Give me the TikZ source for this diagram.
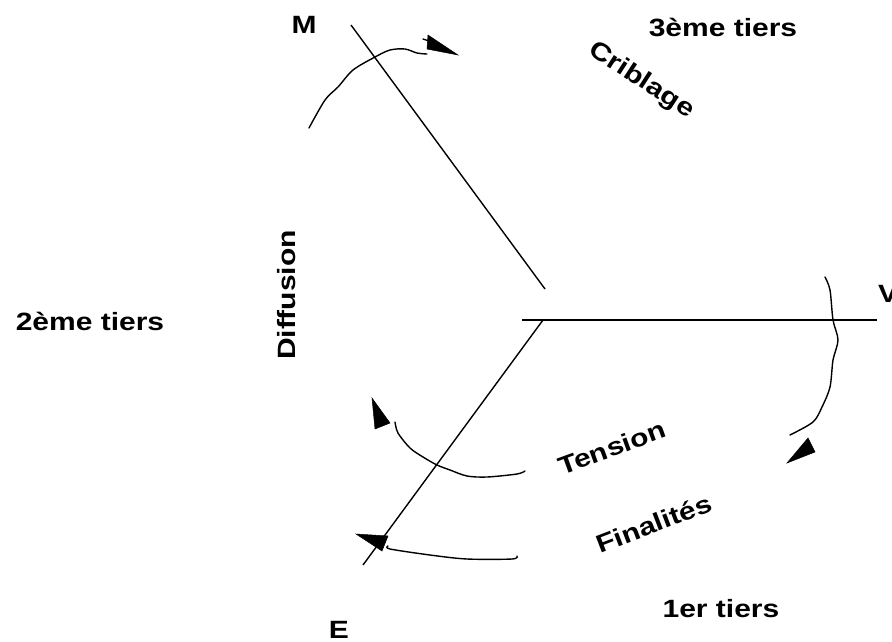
\documentclass[tikz,border=0pt]{standalone}
\usepackage{fontspec}
\newfontfamily\lab{Liberation Sans}[FakeStretch=1.2]
\begin{document}
\begin{tikzpicture}[x=1pt,y=-1pt,
  axis/.style={line width=1.4pt},
  wave/.style={line width=1.4pt, line join=round, line cap=round},
  head/.style={fill=black, draw=black, line width=0.5pt, line join=miter},
  lbl/.style={font=\lab\bfseries\fontsize{25}{30}\selectfont, inner sep=0pt, anchor=base}]
\useasboundingbox (0,0) rectangle (892,641);
% axes
\coordinate (mTop) at (351,25);
\coordinate (mEnd) at (545,289);
\coordinate (cen) at (522,320);
\coordinate (vEnd) at (877,320);
\coordinate (eTop) at (543,320);
\coordinate (eEnd) at (363,565);
\draw[axis] (mTop) -- (mEnd);
\draw[axis] (cen) -- (vEnd);
\draw[axis] (eTop) -- (eEnd);
% top arc (M)
\draw[wave] plot[smooth, tension=0.5] coordinates {(309,128) (325,100) (338,87) (353,70) (375,57) (390,50) (405,49) (417,53) (427,54)};
\draw[wave] (423,39) -- (429,41);
\fill[head] (428,35) -- (458,55) -- (427,49) -- cycle;
% right arc (V)
\draw[wave] plot[smooth, tension=0.5] coordinates {(825,277) (830,290) (833,320) (838,340) (833,360) (830,387) (822,407) (813,422) (790,435)};
\fill[head] (808,438) -- (815,452) -- (787,463) -- cycle;
% tension arc
\draw[wave] plot[smooth, tension=0.5] coordinates {(395,422) (398,433) (410,448) (423,457) (437,465) (450,470) (467,476) (487,477) (517,474) (525,471)};
\fill[head] (372,398) -- (390,423) -- (375,429) -- cycle;
% finalites arc
\draw[wave] plot[smooth, tension=0.5] coordinates {(388,546) (390,549) (430,555) (467,559) (512,559) (517,556)};
\fill[head] (356,534) -- (388,536) -- (382,551) -- cycle;
% labels
\node[lbl] (M) at (304,33) {M};
\node[lbl] (t3) at (723,36) {3ème tiers};
\node[lbl, rotate=-33] (crib) at (638,86) {Criblage};
\node[lbl] (t2) at (90,330) {2ème tiers};
\node[lbl, rotate=90] (diff) at (295,295) {Diffusion};
\node[lbl, anchor=base west] (V) at (878,302) {V};
\node[lbl, rotate=20] (tens) at (615,456) {Tension};
\node[lbl, rotate=21] (fin) at (657,532) {Finalités};
\node[lbl] (t1) at (721,617) {1er tiers};
\node[lbl] (E) at (339,638) {E};
\end{tikzpicture}
\end{document}
